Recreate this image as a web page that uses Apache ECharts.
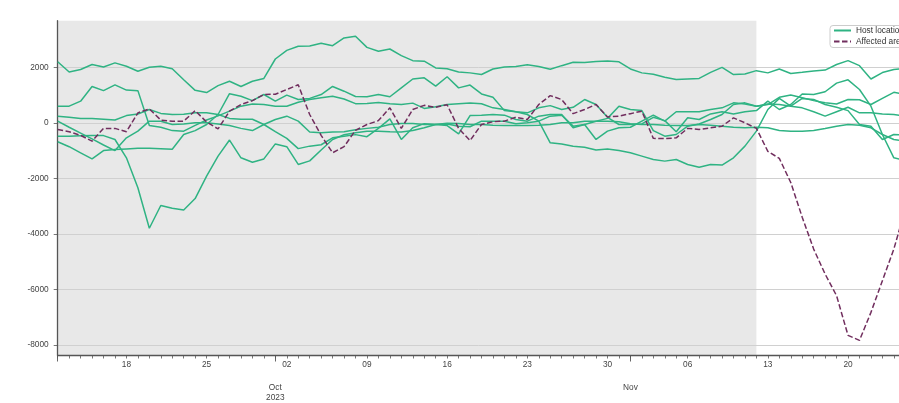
<!DOCTYPE html>
<html><head><meta charset="utf-8">
<script src="https://cdn.jsdelivr.net/npm/echarts@6/dist/echarts.min.js"></script>
<style>html,body{margin:0;padding:0;background:#fff}#c{width:899px;height:403px}</style>
</head><body><div id="c"></div>
<script>
// Daily values, day 0 = 2023-09-12
const hostA = [2200,1830,1920,2100,2010,2160,2040,1860,2000,2040,1950,1550,1170,1090,1340,1500,1310,1500,1600,2300,2610,2760,2770,2870,2780,3060,3120,2720,2580,2660,2420,2240,2220,1980,1950,1830,1800,1740,1940,2010,2030,2090,2030,1930,2060,2180,2170,2210,2230,2200,1940,1800,1750,1640,1560,1580,1600,1820,2000,1740,1760,1880,1800,1940,1780,1820,1870,1900,2100,2240,2060,1580,1810,1920,1960];
const hostB = [600,600,780,1310,1160,1370,1180,1160,-100,-160,-280,-300,-90,100,250,420,600,680,660,600,600,740,840,900,960,860,690,700,730,690,660,710,520,580,660,690,710,690,540,480,400,360,540,620,480,560,840,660,200,-60,-60,-40,200,80,-320,180,120,320,400,320,400,440,780,480,660,1040,1020,1120,1430,1550,1200,600,-420,-1260,-1350];
const hostC = [240,200,160,160,130,100,260,320,480,340,300,310,360,360,300,160,130,130,-60,-320,-560,-930,-840,-790,-540,-485,-425,-500,-200,145,-600,-180,-30,-60,-100,-400,260,276,300,276,120,60,240,300,300,-180,-60,60,160,600,480,440,-280,-480,-420,-120,-40,120,300,660,720,600,660,920,1000,900,800,720,680,840,830,660,880,1100,1020];
const hostD = [-680,-860,-1080,-1300,-1000,-960,-940,-920,-920,-930,-950,-420,-280,-60,300,1050,960,800,1020,780,1000,840,880,1020,1310,1140,950,940,1020,940,1260,1580,1620,1320,1660,1260,1360,1040,920,440,400,300,60,-720,-760,-840,-880,-980,-940,-1000,-1080,-1200,-1320,-1380,-1320,-1500,-1600,-1500,-1520,-1260,-840,-300,480,880,600,880,840,660,560,440,-60,-120,-600,-420,-440];
const hostE = [-480,-480,-470,-460,-460,-600,-1260,-2340,-3800,-2980,-3080,-3140,-2730,-1920,-1200,-620,-1260,-1420,-1300,-760,-860,-1500,-1370,-980,-600,-430,-360,-300,-300,-320,-330,-280,-180,-60,-40,-120,-140,60,60,60,-36,0,60,240,276,-120,-60,-600,-300,-180,-160,60,280,60,400,400,400,480,540,720,680,600,680,660,600,540,400,240,400,560,360,360,320,300,240];
const hostF = [60,-160,-370,-580,-800,-1000,-540,-300,60,60,-60,-40,0,0,-40,-100,-200,-280,-60,120,240,60,-330,-360,-330,-320,-250,-200,-156,-60,-24,-24,-60,-60,-12,-24,-60,-60,-84,-96,-96,-96,-84,-60,0,0,60,60,60,36,-36,-60,-60,-84,-96,-96,-60,-84,-120,-156,-180,-156,-180,-276,-300,-300,-276,-204,-120,-60,-84,-180,-420,-600,-660];
const affected = [-240,-320,-450,-660,-200,-200,-320,360,500,100,60,60,440,30,-220,420,660,800,1020,1030,1200,1370,300,-450,-1080,-860,-270,-60,80,540,-200,480,630,560,650,-200,-640,-60,40,60,200,120,660,980,840,330,480,660,210,240,330,420,-560,-570,-540,-200,-240,-180,-120,180,0,-200,-1030,-1280,-2150,-3400,-4550,-5450,-6230,-7660,-7840,-6830,-5690,-4550,-3100];

const xTickDays = [6,13,20,27,34,41,48,55,62,69];
const xTickLabels = ['18','25','02','09','16','23','30','06','13','20'];
const majorTickDays = [0,19,50];
const monthDays = [19,50];
const monthLabels = ['Oct\n2023','Nov'];
const yTicks = [-8000,-6000,-4000,-2000,0,2000];
const shadedEndDay = 61;

const GREEN = '#2fb383';
const PURPLE = '#712e5e';
const FONT = '"Liberation Sans", Arial, sans-serif';
const allDays = Array.from({length: 75}, (_, i) => i);
const toPts = arr => arr.map((v, i) => [i, v]);

const hostSeries = [hostA, hostB, hostC, hostD, hostE, hostF].map(arr => ({
  name: 'Host locations', type: 'line', data: toPts(arr), symbol: 'none', z: 3,
  lineStyle: {color: GREEN, width: 1.5}, itemStyle: {color: GREEN}, clip: true
}));

const chart = echarts.init(document.getElementById('c'), null, {renderer: 'canvas'});
chart.setOption({
  animation: false,
  grid: {left: 57.7, top: 20.7, right: 0, bottom: 46.3, containLabel: false},
  legend: {
    orient: 'vertical', left: 830, top: 25.5, padding: [1, 5, 2, 3],
    itemWidth: 17, itemHeight: 10, itemGap: 3,
    itemStyle: {opacity: 0},
    backgroundColor: 'rgba(255,255,255,0.85)', borderColor: '#cccccc', borderWidth: 1, borderRadius: 3,
    textStyle: {fontFamily: FONT, fontSize: 8.3, color: '#333'},
    data: ['Host locations', 'Affected area']
  },
  xAxis: [{
    type: 'value', min: 0, max: 73.45, position: 'bottom', z: 1,
    axisLine: {show: true, onZero: false, lineStyle: {color: '#555', width: 1.3}},
    axisTick: {show: true, customValues: allDays, length: 3, lineStyle: {color: '#555', width: 0.8}},
    axisLabel: {customValues: xTickDays, margin: 5, color: '#444', fontFamily: FONT, fontSize: 8.3,
      formatter: v => xTickLabels[xTickDays.indexOf(Math.round(v))] || ''},
    splitLine: {show: false}
  }, {
    type: 'value', min: 0, max: 73.45, position: 'bottom', z: 1,
    axisLine: {show: false, onZero: false},
    axisTick: {show: true, customValues: majorTickDays, length: 6, lineStyle: {color: '#555', width: 0.9}},
    axisLabel: {customValues: monthDays, margin: 27.5, color: '#444', fontFamily: FONT, fontSize: 8.3, lineHeight: 10,
      formatter: v => monthLabels[monthDays.indexOf(Math.round(v))] || ''},
    splitLine: {show: false}
  }],
  yAxis: {
    type: 'value', min: -8384, max: 3680, z: 1,
    axisLine: {show: true, onZero: false, lineStyle: {color: '#555', width: 1.3}},
    axisTick: {show: true, customValues: yTicks, length: 4, lineStyle: {color: '#555', width: 0.8}},
    axisLabel: {customValues: yTicks, margin: 9, color: '#444', fontFamily: FONT, fontSize: 8.3,
      formatter: v => String(Math.round(v))},
    splitLine: {show: true, lineStyle: {color: '#d0d0d0', width: 1}}
  },
  series: [{
    type: 'line', data: [], xAxisIndex: 0, silent: true,
    markArea: {silent: true, z: 0.5, itemStyle: {color: '#e8e8e8'}, data: [[{xAxis: 0}, {xAxis: shadedEndDay}]]}
  }].concat(hostSeries).concat([{
    name: 'Affected area', type: 'line', data: toPts(affected), symbol: 'none', z: 4,
    lineStyle: {color: PURPLE, width: 1.5, type: [5.5, 2.5]}, itemStyle: {color: PURPLE}, clip: true
  }])
});
</script></body></html>
